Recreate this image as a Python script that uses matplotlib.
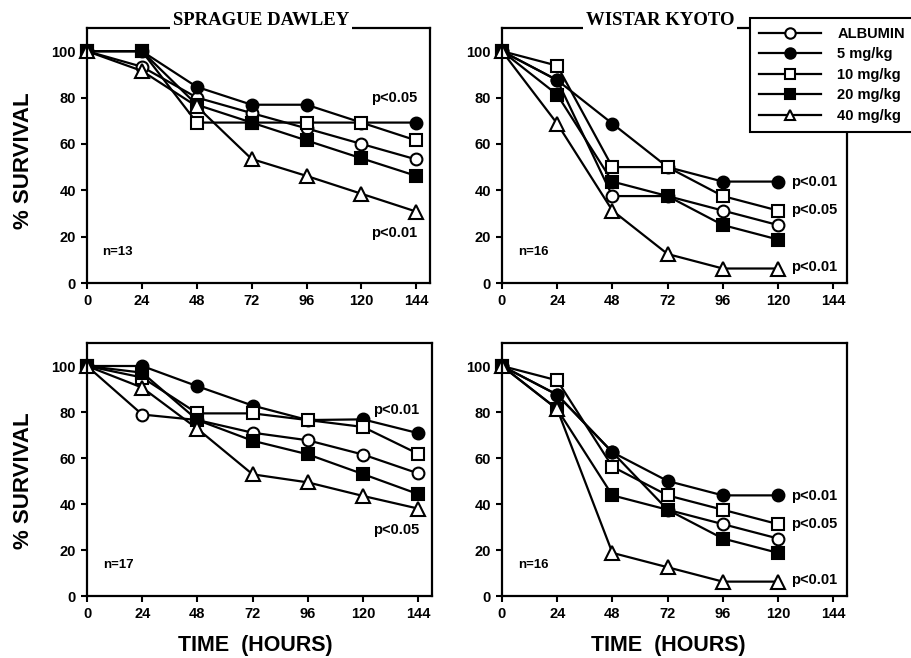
import matplotlib.pyplot as plt
from matplotlib.lines import Line2D

plt.rcParams['font.family'] = ['Liberation Sans', 'DejaVu Sans']

# dados (% de sobrevivencia)
horas_sd = [0, 24, 48, 72, 96, 120, 144]
horas_wk = [0, 24, 48, 72, 96, 120]
xticks = [0, 24, 48, 72, 96, 120, 144]
yticks = [0, 20, 40, 60, 80, 100]

grupos = ['ALBUMIN', '5 mg/kg', '10 mg/kg', '20 mg/kg', '40 mg/kg']

# Sprague Dawley, n=13
sd13_alb = [100, 93.3, 80.0, 73.3, 66.7, 60.0, 53.3]
sd13_5 = [100, 100, 84.6, 76.9, 76.9, 69.2, 69.2]
sd13_10 = [100, 100, 69.2, 69.2, 69.2, 69.2, 61.5]
sd13_20 = [100, 100, 76.9, 69.2, 61.5, 53.8, 46.2]
sd13_40 = [100, 91.5, 76.2, 53.5, 46.2, 38.5, 30.8]

# Wistar Kyoto, n=16 (topo)
wk16a_alb = [100, 87.5, 37.5, 37.5, 31.25, 25.0]
wk16a_5 = [100, 87.5, 68.75, 50.0, 43.75, 43.75]
wk16a_10 = [100, 93.75, 50.0, 50.0, 37.5, 31.25]
wk16a_20 = [100, 81.25, 43.75, 37.5, 25.0, 18.75]
wk16a_40 = [100, 68.75, 31.25, 12.5, 6.25, 6.25]

# Sprague Dawley, n=17
sd17_alb = [100, 78.9, 76.5, 71.0, 67.7, 61.5, 53.3]
sd17_5 = [100, 100, 91.2, 82.8, 76.5, 76.8, 70.8]
sd17_10 = [100, 95.0, 79.4, 79.4, 76.5, 73.5, 61.8]
sd17_20 = [100, 97.1, 76.5, 67.5, 61.6, 53.0, 44.3]
sd17_40 = [100, 90.6, 72.7, 52.9, 49.4, 43.5, 38.0]

# Wistar Kyoto, n=16 (baixo)
wk16b_alb = [100, 87.5, 62.5, 37.5, 31.25, 25.0]
wk16b_5 = [100, 87.5, 62.5, 50.0, 43.75, 43.75]
wk16b_10 = [100, 93.75, 56.25, 43.75, 37.5, 31.25]
wk16b_20 = [100, 81.25, 43.75, 37.5, 25.0, 18.75]
wk16b_40 = [100, 81.25, 18.75, 12.5, 6.25, 6.25]

estilos = [
    dict(marker='o', mfc='white', ms=8.5),
    dict(marker='o', mfc='black', ms=8.5),
    dict(marker='s', mfc='white', ms=8.5),
    dict(marker='s', mfc='black', ms=8.5),
    dict(marker='^', mfc='white', ms=10),
]

paineis = [
    ('SPRAGUE DAWLEY', 0.507, horas_sd, [sd13_alb, sd13_5, sd13_10, sd13_20, sd13_40], 'n=13',
     [('p<0.05', 134.5, 80), ('p<0.01', 134.5, 21.5)], 'center'),
    ('WISTAR KYOTO', 0.458, horas_wk, [wk16a_alb, wk16a_5, wk16a_10, wk16a_20, wk16a_40], 'n=16',
     [('p<0.01', 125.5, 43.5), ('p<0.05', 125.5, 31.5), ('p<0.01', 125.5, 6.8)], 'left'),
    (None, 0.5, horas_sd, [sd17_alb, sd17_5, sd17_10, sd17_20, sd17_40], 'n=17',
     [('p<0.01', 134.5, 81), ('p<0.05', 134.5, 28.5)], 'center'),
    (None, 0.5, horas_wk, [wk16b_alb, wk16b_5, wk16b_10, wk16b_20, wk16b_40], 'n=16',
     [('p<0.01', 125.5, 43.5), ('p<0.05', 125.5, 31.5), ('p<0.01', 125.5, 6.8)], 'left'),
]

W, H = 912, 658
caixas = [(87, 430, 28, 283), (502, 847, 28, 283), (87, 432, 343, 596), (502, 847, 343, 596)]

fig = plt.figure(figsize=(9.12, 6.58), dpi=100)

for (titulo, tx, horas, series, n_txt, pvals, pha), (l, r, t, b) in zip(paineis, caixas):
    ax = fig.add_axes([l / W, 1 - b / H, (r - l) / W, (b - t) / H])
    for ys, st in zip(series, estilos):
        ax.plot(horas, ys, color='black', lw=1.6, mec='black', mew=1.5, clip_on=False, **st)
    ax.set_xlim(0, 150)
    ax.set_ylim(0, 110)
    ax.set_xticks(xticks)
    ax.set_yticks(yticks)
    ax.tick_params(direction='out', length=4, width=1.5, labelsize=10.5, pad=4)
    for lab in ax.get_xticklabels() + ax.get_yticklabels():
        lab.set_fontweight('bold')
    for sp in ax.spines.values():
        sp.set_linewidth(1.6)
    ax.text(13.5, 13.5, n_txt, fontsize=9.5, fontweight='bold', ha='center', va='center')
    for txt, px, py in pvals:
        ax.text(px, py, txt, fontsize=10.5, fontweight='bold', ha=pha, va='center')
    if titulo:
        ax.annotate(titulo, xy=(tx, 1.0), xycoords='axes fraction', xytext=(0, 2.5),
                    textcoords='offset points', ha='center', va='baseline',
                    family='Liberation Serif', fontsize=13.5, fontweight='bold',
                    bbox=dict(fc='white', ec='none', pad=2.2))

# rotulos dos eixos
for yc in [161, 481]:
    fig.text(24 / W, 1 - yc / H, '% SURVIVAL', rotation=90, ha='center', va='center',
             fontsize=16, fontweight='bold')
for xc in [255, 668]:
    fig.text(xc / W, 1 - 645 / H, 'TIME  (HOURS)', ha='center', va='center',
             fontsize=15.5, fontweight='bold')

# legenda
handles = [Line2D([], [], color='black', lw=1.6, mec='black', mew=1.5, **dict(st, ms=7.5))
           for st in estilos]
leg = fig.legend(handles, grupos, loc='upper left',
                 bbox_to_anchor=(750 / W, 1 - 18 / H, 180 / W, 0), mode='expand',
                 fancybox=False, framealpha=1, edgecolor='black', handlelength=4.3,
                 handletextpad=1.1, labelspacing=0.45, borderpad=0.6, borderaxespad=0,
                 prop=dict(size=10.5, weight='bold'))
leg.get_frame().set_linewidth(1.5)
leg.set_zorder(10)

fig.savefig('out.png', dpi=100)
